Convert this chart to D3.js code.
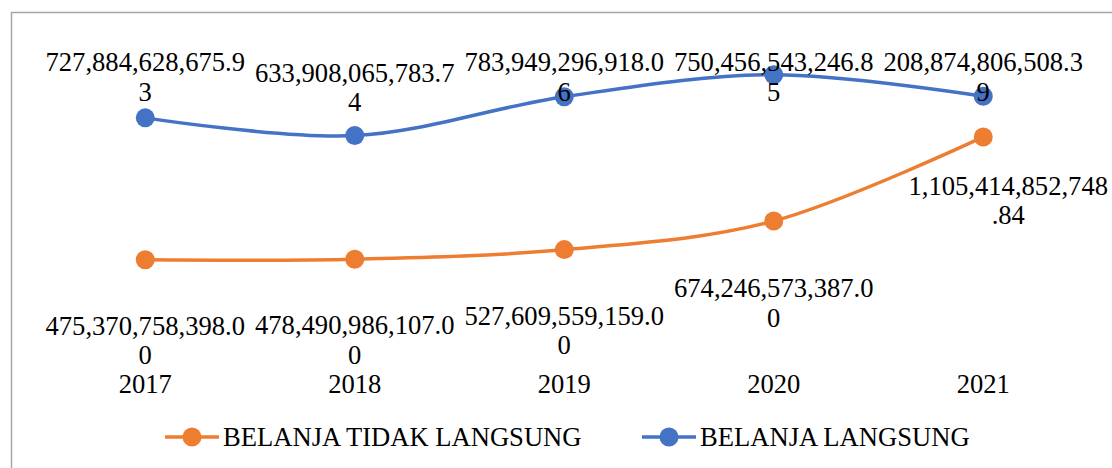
<!DOCTYPE html>
<html>
<head>
<meta charset="utf-8">
<script src="https://cdn.jsdelivr.net/npm/d3@7"></script>
<style>
  html, body { margin: 0; padding: 0; background: #fff; }
</style>
</head>
<body>
<svg id="chart" width="1112" height="468"></svg>
<script>
// Years on the category axis
const years = ["2017", "2018", "2019", "2020", "2021"];
// Spending series (Rupiah)
const belanjaTidakLangsung = [475370758398.00, 478490986107.00, 527609559159.00, 674246573387.00, 1105414852748.84];
const belanjaLangsung = [727884628675.93, 633908065783.74, 783949296918.06, 750456543246.85, 208874806508.39];
const seriesNames = ["BELANJA TIDAK LANGSUNG", "BELANJA LANGSUNG"];
const seriesColors = ["#ED7D31", "#4472C4"];
// Hidden value axis (stacked)
const yMax = 1600e9;

// Label placement tweaks for the lower series (distance below point, horizontal shift)
const lowerLabelDy = [66, 66, 66, 67, 49];
const lowerLabelDx = [0, 0, 0, 0, 25];

const svg = d3.select("#chart");
const W = 1112, H = 468;
const plot = { left: 40.5, right: 1088, top: 40.5, bottom: 352.5 };
const fontSize = 26.6, lineGap = 29.5, wrapAt = 17;
const FONT = "'Liberation Serif', 'Tinos', 'Times New Roman', 'DejaVu Serif'";

// chart-area border
svg.append("rect")
  .attr("x", 11.5).attr("y", 12.5)
  .attr("width", W + 20).attr("height", H + 20)
  .attr("fill", "#fff").attr("stroke", "#a6a6a6").attr("stroke-width", 1.5);

const x = d3.scaleBand().domain(years).range([plot.left, plot.right]).padding(0);
const cx = d => x(d) + x.bandwidth() / 2;
const y = d3.scaleLinear().domain([0, yMax]).range([plot.bottom, plot.top]);

// stacked line chart: second series sits on top of the first
const rows = years.map((yr, i) => ({ year: yr, a: belanjaTidakLangsung[i], b: belanjaLangsung[i] }));
const stacked = d3.stack().keys(["a", "b"])(rows);

const fmt = d3.format(",.2f");
const wrap = s => s.length > wrapAt ? [s.slice(0, wrapAt), s.slice(wrapAt)] : [s];

const line = d3.line()
  .x(d => cx(d.data.year))
  .y(d => y(d[1]))
  .curve(d3.curveCardinal.tension(0));

function label(sel) {
  return sel.attr("font-family", FONT).attr("font-size", fontSize).attr("fill", "#000");
}

// category labels
svg.append("g").selectAll("text").data(years).join("text")
  .attr("x", d => cx(d)).attr("y", 384).attr("dy", "0.34em")
  .attr("text-anchor", "middle").call(label)
  .text(d => d);

stacked.forEach((layer, si) => {
  const g = svg.append("g");
  g.append("path").datum(layer)
    .attr("d", line).attr("fill", "none")
    .attr("stroke", seriesColors[si]).attr("stroke-width", 3.5)
    .attr("stroke-linecap", "round");
  g.selectAll("circle").data(layer).join("circle")
    .attr("cx", d => cx(d.data.year)).attr("cy", d => y(d[1]))
    .attr("r", 9.5).attr("fill", seriesColors[si]);
});

// data labels (drawn above lines and markers)
stacked.forEach((layer, si) => {
  const g = svg.append("g");
  layer.forEach((d, i) => {
    const raw = si === 0 ? belanjaTidakLangsung[i] : belanjaLangsung[i];
    const lines = wrap(fmt(raw));
    const py = y(d[1]);
    let firstY, px = cx(d.data.year);
    if (si === 1) {
      // above the point, kept inside the plot area
      firstY = Math.max(62, py - 63);
    } else {
      firstY = py + lowerLabelDy[i];
      px += lowerLabelDx[i];
    }
    lines.forEach((t, k) => {
      g.append("text")
        .attr("x", px).attr("y", firstY + k * lineGap).attr("dy", "0.34em")
        .attr("text-anchor", "middle").call(label)
        .text(t);
    });
  });
});

// legend
const legendX = [165, 642];
const legend = svg.append("g");
seriesNames.forEach((name, i) => {
  const lg = legend.append("g").attr("transform", `translate(${legendX[i]},437)`);
  lg.append("line").attr("x1", 0).attr("x2", 54).attr("y1", 0).attr("y2", 0)
    .attr("stroke", seriesColors[i]).attr("stroke-width", 3.5);
  lg.append("circle").attr("cx", 27).attr("cy", 0).attr("r", 9.5).attr("fill", seriesColors[i]);
  lg.append("text").attr("x", 58).attr("y", 0).attr("dy", "0.34em")
    .call(label).text(name);
});
</script>
</body>
</html>
